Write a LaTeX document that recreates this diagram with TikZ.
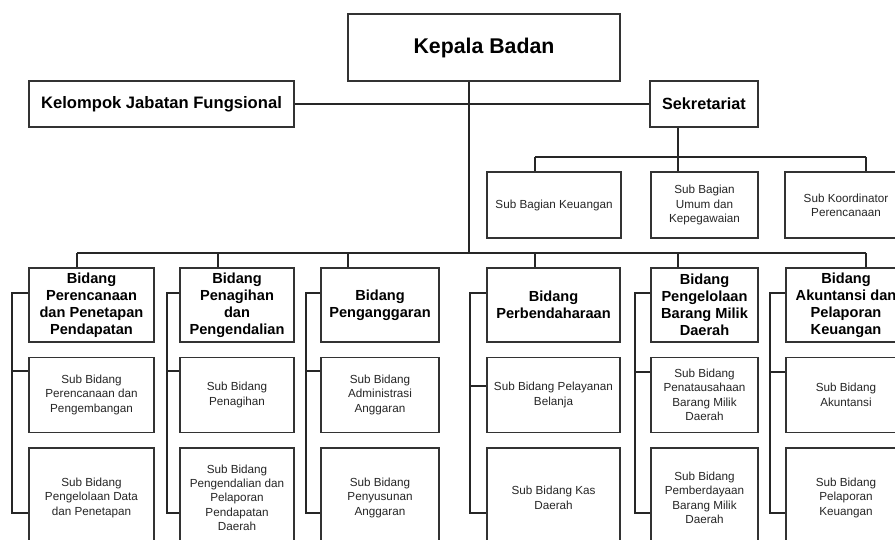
\documentclass[tikz,border=0pt]{standalone}
\usepackage{fontspec}
\setmainfont{Liberation Sans}
\usetikzlibrary{positioning}
\definecolor{boxline}{HTML}{333333}
\definecolor{linkline}{HTML}{262626}

\begin{document}
\begin{tikzpicture}[
    x=1pt, y=-1pt,
    box/.style={draw=boxline, line width=1.4pt, fill=white, align=center, inner sep=1pt},
    head/.style={box, minimum height=74, font=\fontsize{14.6}{17}\selectfont\bfseries},
    unit/.style={box, text=black!85, font=\fontsize{11.7}{14.3}\selectfont},
    conn/.style={draw=linkline, line width=1.1pt},
    node distance=14pt,
  ]
  \useasboundingbox (0,0) rectangle (895,540);
  \clip (0,0) rectangle (895,540);

  % top level
  \node[box, minimum width=272, minimum height=67, font=\fontsize{21.3}{25}\selectfont\bfseries] (kepala) at (484,47.5) {Kepala Badan};
  \node[box, minimum width=265, minimum height=46, font=\fontsize{16.6}{18}\selectfont\bfseries] (kjf) at (161.5,104) {Kelompok Jabatan Fungsional};
  \node[box, minimum width=108, minimum height=46, font=\fontsize{16.2}{18}\selectfont\bfseries] (sekr) at (704,104) {Sekretariat};

  % sekretariat units
  \node[unit, minimum width=134, minimum height=66] (sbk) at (554,205) {Sub Bagian Keuangan};
  \node[unit, minimum width=107, minimum height=66] (sbu) at (704.5,205) {Sub Bagian\\Umum dan\\Kepegawaian};
  \node[unit, minimum width=122, minimum height=66] (skp) at (846,205) {Sub Koordinator\\Perencanaan};

  % bidang
  \node[head, minimum width=125] (bid1) at (91.5,305) {Bidang\\Perencanaan\\dan Penetapan\\Pendapatan};
  \node[head, minimum width=114] (bid2) at (237,305) {Bidang\\Penagihan\\dan\\Pengendalian};
  \node[head, minimum width=118] (bid3) at (380,305) {Bidang\\Penganggaran};
  \node[head, minimum width=133] (bid4) at (553.5,305) {Bidang\\Perbendaharaan};
  \node[head, minimum width=107] (bid5) at (704.5,305) {Bidang\\Pengelolaan\\Barang Milik\\Daerah};
  \node[head, minimum width=120] (bid6) at (846,305) {Bidang\\Akuntansi dan\\Pelaporan\\Keuangan};

  % sub bidang
  \node[unit, minimum width=125, minimum height=75, below=of bid1] (suba1) {Sub Bidang\\Perencanaan dan\\Pengembangan};
  \node[unit, minimum width=125, minimum height=100, below=of suba1] (subb1) {Sub Bidang\\Pengelolaan Data\\dan Penetapan};
  \node[unit, minimum width=114, minimum height=75, below=of bid2] (suba2) {Sub Bidang\\Penagihan};
  \node[unit, minimum width=114, minimum height=100, below=of suba2] (subb2) {Sub Bidang\\Pengendalian dan\\Pelaporan\\Pendapatan\\Daerah};
  \node[unit, minimum width=118, minimum height=75, below=of bid3] (suba3) {Sub Bidang\\Administrasi\\Anggaran};
  \node[unit, minimum width=118, minimum height=100, below=of suba3] (subb3) {Sub Bidang\\Penyusunan\\Anggaran};
  \node[unit, minimum width=133, minimum height=75, below=of bid4] (suba4) {Sub Bidang Pelayanan\\Belanja};
  \node[unit, minimum width=133, minimum height=100, below=of suba4] (subb4) {Sub Bidang Kas\\Daerah};
  \node[unit, minimum width=107, minimum height=75, below=of bid5] (suba5) {Sub Bidang\\Penatausahaan\\Barang Milik\\Daerah};
  \node[unit, minimum width=107, minimum height=100, below=of suba5] (subb5) {Sub Bidang\\Pemberdayaan\\Barang Milik\\Daerah};
  \node[unit, minimum width=120, minimum height=75, below=of bid6] (suba6) {Sub Bidang\\Akuntansi};
  \node[unit, minimum width=120, minimum height=100, below=of suba6] (subb6) {Sub Bidang\\Pelaporan\\Keuangan};

  % lines
  \coordinate (trunk) at (469,253);
  \coordinate (sbus) at (678,157);
  \draw[conn] (kjf) -- (sekr);
  \draw[conn] (kepala.south -| trunk) -- (trunk);
  \draw[conn] (77,253) -- (866,253);
  \foreach \c/\dx in {1/77, 2/218, 3/348, 4/535, 5/678, 6/866}
    \draw[conn] (\dx,253) -- (bid\c.north -| \dx,0);

  \draw[conn] (sekr.south -| sbus) -- (sbus);
  \draw[conn] (535,157) -- (866,157);
  \draw[conn] (535,157) -- (sbk.north -| 535,0);
  \draw[conn] (sbus) -- (sbu.north -| sbus);
  \draw[conn] (866,157) -- (skp.north -| 866,0);

  \foreach \c/\rx/\ry in {1/12/371, 2/167/371, 3/306/371, 4/470/386, 5/635/372, 6/770/372} {
    \draw[conn] (bid\c.west |- 0,293) -| (\rx,513) -- (subb\c.west |- 0,513);
    \draw[conn] (\rx,\ry) -- (suba\c.west |- 0,\ry);
  }
\end{tikzpicture}
\end{document}
